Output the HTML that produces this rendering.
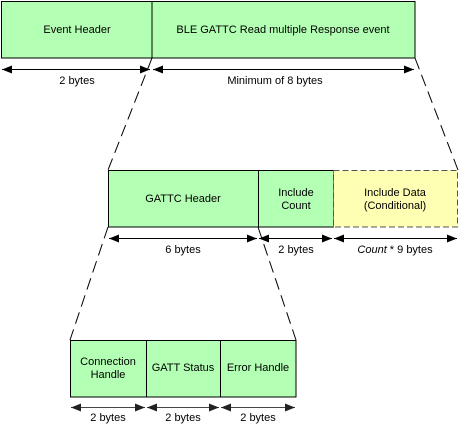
<!DOCTYPE html>
<html><head><meta charset="utf-8"><style>
html,body{margin:0;padding:0;background:#fff;}
svg{display:block;font-family:"Liberation Sans",Arial,sans-serif;font-size:11px;}
</style></head><body>
<svg width="460" height="429" viewBox="0 0 460 429" xmlns="http://www.w3.org/2000/svg">
<defs>
<marker id="a" viewBox="0 0 10 8" refX="10" refY="4" markerWidth="10" markerHeight="8" orient="auto-start-reverse" markerUnits="userSpaceOnUse"><path d="M0,0 L10,4 L0,8 z" fill="#000"/></marker>
<marker id="g" viewBox="0 0 10 8" refX="10" refY="4" markerWidth="10" markerHeight="8" orient="auto-start-reverse" markerUnits="userSpaceOnUse"><path d="M0,0 L10,4 L0,8 z" fill="#222"/></marker>
</defs>
<g stroke="#000" stroke-width="1" fill="#b3ffb3">
<rect x="1.5" y="1.5" width="150.5" height="56.5"/>
<rect x="152" y="1.5" width="263" height="56.5"/>
<rect x="108.5" y="170.5" width="150" height="56.5"/>
<rect x="258.5" y="170.5" width="75" height="56.5"/>
<rect x="70.5" y="340.5" width="76" height="56.5"/>
<rect x="146.5" y="340.5" width="74" height="56.5"/>
<rect x="220.5" y="340.5" width="75.5" height="56.5"/>
</g>
<rect x="333.5" y="170.5" width="124" height="56.5" fill="#ffffb3" stroke="#555" stroke-dasharray="6,3"/>
<g stroke="#000" stroke-dasharray="12,6" fill="none">
<line x1="152" y1="58" x2="108" y2="170"/>
<line x1="415" y1="58" x2="458" y2="170"/>
<line x1="108" y1="227" x2="70" y2="340"/>
<line x1="258" y1="227" x2="296" y2="340"/>
</g>
<g stroke="#000" stroke-width="1">
<line x1="2" y1="69.5" x2="150" y2="69.5" marker-start="url(#a)" marker-end="url(#a)"/>
<line x1="153" y1="69.5" x2="414" y2="69.5" marker-start="url(#a)" marker-end="url(#a)"/>
<line x1="109" y1="238.5" x2="257" y2="238.5" marker-start="url(#a)" marker-end="url(#a)"/>
<line x1="259" y1="238.5" x2="332" y2="238.5" marker-start="url(#a)" marker-end="url(#a)"/>
<line x1="334" y1="238.5" x2="457" y2="238.5" marker-start="url(#a)" marker-end="url(#a)"/>
</g>
<g stroke="#444" stroke-width="1">
<line x1="71" y1="407.5" x2="145" y2="407.5" marker-start="url(#g)" marker-end="url(#g)"/>
<line x1="147" y1="407.5" x2="219" y2="407.5" marker-start="url(#g)" marker-end="url(#g)"/>
<line x1="221" y1="407.5" x2="295" y2="407.5" marker-start="url(#g)" marker-end="url(#g)"/>
</g>
<g fill="#000" text-anchor="middle">
<text x="77" y="33">Event Header</text>
<text x="283" y="33">BLE GATTC Read multiple Response event</text>
<text x="77" y="84">2 bytes</text>
<text x="275" y="84">Minimum of 8 bytes</text>
<text x="183" y="202">GATTC Header</text>
<text x="296" y="196">Include</text>
<text x="296" y="209">Count</text>
<text x="395" y="196">Include Data</text>
<text x="395" y="209">(Conditional)</text>
<text x="183" y="253">6 bytes</text>
<text x="296" y="253">2 bytes</text>
<text x="395" y="253"><tspan font-style="italic">Count</tspan> * 9 bytes</text>
<text x="108" y="365">Connection</text>
<text x="108" y="378">Handle</text>
<text x="183" y="371">GATT Status</text>
<text x="258" y="371">Error Handle</text>
<text x="108" y="421">2 bytes</text>
<text x="183" y="421">2 bytes</text>
<text x="258" y="421">2 bytes</text>
</g>
</svg>
</body></html>
